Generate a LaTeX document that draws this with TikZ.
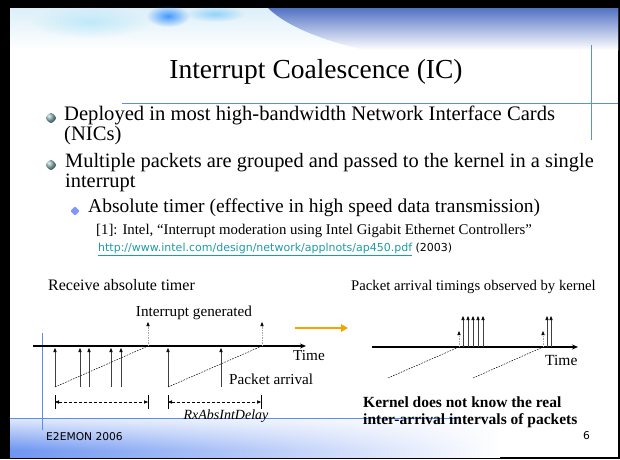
\documentclass[tikz,border=0pt]{standalone}
\usepackage{fontspec}
\setmainfont{Liberation Serif}
\setsansfont{DejaVu Sans}
\usetikzlibrary{arrows.meta,fadings}

\definecolor{frameblue}{HTML}{5B8DEF}
\definecolor{bannerblue}{HTML}{5272C4}
\definecolor{skytint}{HTML}{DCEFF8}
\definecolor{footblue}{HTML}{6F96F2}
\definecolor{bullteal}{HTML}{7FA8AA}
\definecolor{subblue}{HTML}{7F97FF}
\definecolor{linkteal}{HTML}{1E9CA8}
\definecolor{arrorange}{HTML}{F5A300}

% soft-edged spot for the cloudy banner
\tikzfading[name=softspot, inner color=transparent!0, outer color=transparent!100]

\tikzset{
  txt/.style={inner sep=0pt, anchor=mid west},
  rule/.style={draw=frameblue, line width=0.7pt},
  axisline/.style={line width=1.2pt, -{Stealth[length=6pt,width=5pt]}},
  packet/.style={draw=black!75, line width=0.6pt, -{Triangle[length=4pt,width=3.2pt,color=black]}},
  intr/.style={draw=black!35, line width=0.6pt, dash pattern=on 1.5pt off 1pt,
               -{Triangle[length=4pt,width=3.2pt,color=black]}},
  slope/.style={line width=0.5pt, dash pattern=on 1.6pt off 1.2pt},
  span/.style={line width=0.5pt, dash pattern=on 3pt off 2pt,
               {Triangle[length=4pt,width=3.2pt]}-{Triangle[length=4pt,width=3.2pt]}},
  tick/.style={line width=0.7pt},
  mainbullet/.style={shape=rectangle, rotate=45, minimum size=8.5pt, inner sep=0pt,
               rounded corners=2.5pt, ball color=bullteal, draw=none},
  subbullet/.style={shape=rectangle, rotate=45, minimum size=6.5pt, inner sep=0pt,
               fill=subblue, rounded corners=1pt}
}

\begin{document}
\begin{tikzpicture}[x=1pt,y=-1pt]
% slide frame
\fill[black] (0,0) rectangle (620,459);
\fill[white] (10,8) rectangle (618,457);
\useasboundingbox (0,0) rectangle (620,459);

% banner across the top
\shade[top color=skytint, bottom color=white] (10,8) rectangle (618,50);
\fill[cyan!35, opacity=0.6, path fading=softspot] (90,22) ellipse (60pt and 16pt);
\fill[blue!55!cyan, opacity=0.7, path fading=softspot] (168,16) ellipse (22pt and 11pt);
\fill[blue!40!cyan, opacity=0.35, path fading=softspot] (215,14) ellipse (30pt and 8pt);
\shade[top color=bannerblue, bottom color=white]
  (268,8) .. controls (285,25) and (320,40) .. (365,50) -- (618,50) -- (618,8) -- cycle;

% footer band
\shade[left color=footblue, right color=white, middle color=footblue!50]
  (10,418) rectangle (500,457);
\fill[white, opacity=0.8, path fading=south] (10,418) rectangle (500,450);

% guide rules
\draw[rule] (122,103) -- (618,103);
\draw[rule] (591,45) -- (591,140);
\draw[rule] (10,418) -- (458,418);
\draw[rule] (42,333) -- (42,430);

% title
\node[inner sep=0pt] (title) at (316,72) {\fontsize{27.5}{30}\selectfont Interrupt Coalescence (IC)};

% bullet list
\node[mainbullet] (b1) at (51,118) {};
\node[txt] (l1) at (64,118) {\fontsize{20.6}{24}\selectfont Deployed in most high-bandwidth Network Interface Cards};
\node[txt] (l1b) at (64,138) {\fontsize{20.6}{24}\selectfont (NICs)};
\node[mainbullet] (b2) at (51,165) {};
\node[txt] (l2) at (65,165) {\fontsize{20.4}{24}\selectfont Multiple packets are grouped and passed to the kernel in a single};
\node[txt] (l2b) at (65,185) {\fontsize{20.4}{24}\selectfont interrupt};
\node[subbullet] (b3) at (75,211) {};
\node[txt] (l3) at (88,210) {\fontsize{19.5}{22}\selectfont Absolute timer (effective in high speed data transmission)};
\node[txt] (ref) at (96,232) {\fontsize{14.8}{17}\selectfont [1]: Intel, “Interrupt moderation using Intel Gigabit Ethernet Controllers”};
\node[txt] (url) at (98,249) {\fontsize{11}{13}\selectfont\sffamily\textcolor{linkteal}{\underline{http://www.intel.com/design/network/applnots/ap450.pdf}} (2003)};

% left timeline: receive absolute timer
\node[txt] (lhead) at (48,288) {\fontsize{16}{18}\selectfont Receive absolute timer};
\node[inner sep=0pt] (igen) at (194,313) {\fontsize{15.2}{17}\selectfont Interrupt generated};
\coordinate (la0) at (33,346);
\coordinate (la1) at (306,346);
\draw[axisline] (la0) -- (la1);
\node[txt] (ltime) at (293,358) {\fontsize{15.2}{17}\selectfont Time};
\node[txt] (parr) at (229,382) {\fontsize{15.2}{17}\selectfont Packet arrival};

\foreach \i/\x in {1/55,2/80,3/89,4/111,5/121,6/168,7/221} {
  \coordinate (pb\i) at (\x,387);
  \coordinate (pt\i) at (\x,348);
  \draw[packet] (pb\i) -- (pt\i);
}
\foreach \i/\x in {1/148,2/262} {
  \coordinate (ib\i) at (\x,346);
  \coordinate (it\i) at (\x,322);
  \draw[intr] (ib\i) -- (it\i);
}
\draw[slope] (pb1) -- (ib1);
\draw[slope] (pb6) -- (ib2);

% delay spans
\foreach \i/\a/\b in {1/55/148,2/168/261} {
  \coordinate (sa\i) at (\a,402);
  \coordinate (sb\i) at (\b,402);
  \coordinate (ta\i) at (\a,395);
  \coordinate (tb\i) at (\b,395);
  \coordinate (ua\i) at (\a,409);
  \coordinate (ub\i) at (\b,409);
  \draw[tick] (ta\i) -- (ua\i);
  \draw[tick] (tb\i) -- (ub\i);
  \draw[span] (sa\i) -- (sb\i);
}
\node[inner sep=0pt] (delay) at (226,416) {\fontsize{14}{16}\selectfont\itshape RxAbsIntDelay};

% arrow between the two views
\coordinate (oa) at (295,328);
\coordinate (ob) at (348,328);
\draw[draw=arrorange, line width=2.6pt, -{Triangle[length=7pt,width=7.5pt]}] (oa) -- (ob);

% right timeline: as observed by the kernel
\node[txt] (rhead) at (351,288) {\fontsize{14.7}{17}\selectfont Packet arrival timings observed by kernel};
\coordinate (ra0) at (372,347);
\coordinate (ra1) at (578,347);
\draw[axisline] (ra0) -- (ra1);
\node[txt] (rtime) at (545,363) {\fontsize{15.5}{17}\selectfont Time};

\foreach \i/\x/\s in {1/459/388,2/543/473} {
  \coordinate (rb\i) at (\x,347);
  \coordinate (rt\i) at (\x,331);
  \coordinate (rs\i) at (\s,378);
  \draw[intr] (rb\i) -- (rt\i);
  \draw[slope] (rs\i) -- (rb\i);
}
\foreach \i/\x in {1/463,2/468,3/473,4/478,5/483,6/547,7/551} {
  \coordinate (kb\i) at (\x,347);
  \coordinate (kt\i) at (\x,316);
  \draw[packet] (kb\i) -- (kt\i);
}

\node[txt] (k1) at (363,405) {\fontsize{15.5}{18}\selectfont\bfseries Kernel does not know the real};
\node[txt] (k2) at (363,422) {\fontsize{15.5}{18}\selectfont\bfseries inter-arrival intervals of packets};

% footer
\node[txt] (foot) at (46,438) {\fontsize{10.7}{13}\selectfont\sffamily E2EMON 2006};
\node[txt] (page) at (583,437) {\fontsize{10.7}{13}\selectfont\sffamily 6};
\end{tikzpicture}
\end{document}
